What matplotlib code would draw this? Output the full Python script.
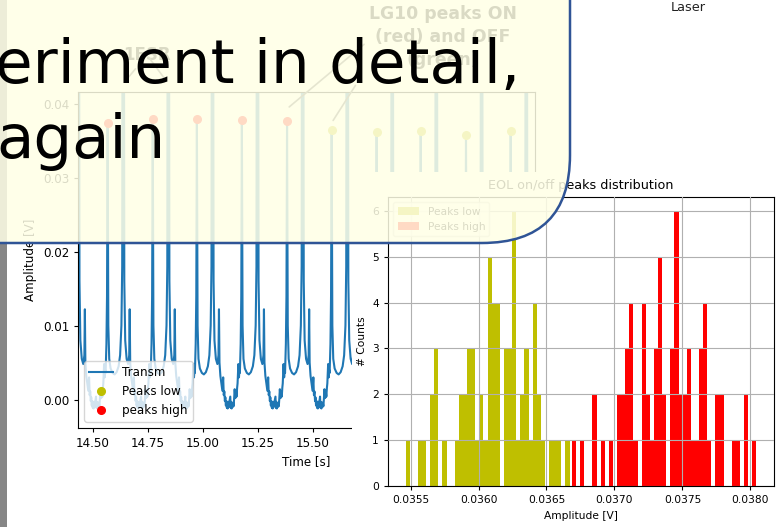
import numpy as np
import matplotlib.pyplot as plt
from matplotlib.patches import Rectangle, FancyBboxPatch
from matplotlib.ticker import MultipleLocator, FormatStrFormatter

W, H = 779, 527

# Transmission scan: peak times [s] of the LG10 mode and their heights [V]
stem_t = [14.568, 14.7726, 14.973, 15.1771, 15.3821,
          15.5844, 15.7884, 15.9884, 16.1939, 16.3966]
stem_h = [0.0374, 0.0379, 0.0379, 0.0378, 0.0377,
          0.0364, 0.0362, 0.0363, 0.0358, 0.0363]
prev_t, prev_h = 14.3646, 0.0370   # cycle just before the window
n_high = 5                          # first five peaks are "ON"

# one cycle of the trace after a peak (offset [s], value [V])
after_off = [0.0, 0.0032, 0.0073, 0.0136, 0.0227, 0.0317, 0.0408, 0.0499, 0.0567,
             0.0626, 0.0662, 0.0685, 0.0730, 0.0757, 0.0798, 0.0862, 0.0930, 0.0980,
             0.1002, 0.1025, 0.1066, 0.1111, 0.1156, 0.1193, 0.1220, 0.1245, 0.1270,
             0.1292, 0.1315, 0.1338, 0.1361, 0.1380, 0.1397, 0.1415, 0.1433]
after_val = [None, 0.0100, 0.0055, 0.0042, 0.0036, 0.0034, 0.0037, 0.0045, 0.0060,
             0.0100, 0.0180, 0.0800, 0.0800, 0.0160, 0.0080, 0.0055, 0.0048, 0.0060,
             0.0122, 0.0050, 0.0032, 0.0022, 0.0012, 0.0030, 0.0006, 0.0011, -0.0002,
             0.0003, -0.0008, -0.0002, -0.0011, -0.0004, -0.0012, -0.0003, -0.0010]
# rise towards the next peak (offset before it [s], value [V])
before_off = [-0.0526, -0.0510, -0.0490, -0.0465, -0.0444, -0.0420, -0.0399,
              -0.0375, -0.0354, -0.0327, -0.0295, -0.0265, -0.0240, -0.0215,
              -0.0195, -0.0159, -0.0132, -0.0110, -0.0091, -0.0054, -0.0027]
before_val = [0.0004, -0.0011, -0.0003, -0.0012, -0.0005, -0.0010, -0.0004,
              -0.0009, 0.0000, 0.0014, 0.0002, 0.0011, 0.0004, 0.0016,
              0.0022, 0.0048, 0.0030, 0.0040, 0.0036, 0.0075, 0.0140]

# histogram of peak amplitudes
low_edges = np.linspace(0.035463, 0.036670, 41)
low_counts = [1, 0, 0, 1, 1, 0, 2, 3, 0, 1, 0, 0, 1, 2, 2, 3, 3, 1, 2, 1,
              5, 4, 4, 0, 3, 3, 6, 1, 2, 3, 1, 4, 2, 1, 0, 1, 1, 1, 0, 1]
high_edges = np.linspace(0.036687, 0.038045, 46)
high_counts = [1, 0, 1, 0, 0, 2, 0, 1, 0, 1, 0, 2, 2, 3, 4, 1, 0, 4, 2, 1,
               3, 5, 2, 0, 3, 6, 2, 2, 3, 1, 1, 3, 4, 1, 0, 2, 2, 0, 0, 1,
               1, 0, 2, 0, 1]

# build the trace
ts, vs = [], []
all_t = [prev_t] + stem_t
all_h = [prev_h] + stem_h
for k, (t0, h0) in enumerate(zip(all_t, all_h)):
    for off, v in zip(after_off, after_val):
        ts.append(t0 + off)
        vs.append(h0 if v is None else v)
    if k + 1 < len(all_t):
        for off, v in zip(before_off, before_val):
            ts.append(all_t[k + 1] + off)
            vs.append(v)


def rect(x0, y0, x1, y1):
    return [x0 / W, 1 - y1 / H, (x1 - x0) / W, (y1 - y0) / H]


fig = plt.figure(figsize=(W / 100, H / 100), dpi=100, facecolor='white')

# ---- time series ----
fs = 8.6
ax = fig.add_axes(rect(78.3, 91.7, 535, 427.7))
ax.set_zorder(1)
ax.plot(ts, vs, color='#1f77b4', lw=1.5, label='Transm')
ax.plot(stem_t[n_high:], stem_h[n_high:], 'o', color='y', ms=5.5, label='Peaks low')
ax.plot(stem_t[:n_high], stem_h[:n_high], 'o', color='r', ms=5.5, label='peaks high')
ax.set_xlim(14.435, 16.507)
ax.set_ylim(-0.0038, 0.0416)
ax.xaxis.set_major_locator(MultipleLocator(0.25))
ax.xaxis.set_major_formatter(FormatStrFormatter('%.2f'))
ax.yaxis.set_major_locator(MultipleLocator(0.01))
ax.yaxis.set_major_formatter(FormatStrFormatter('%.2f'))
ax.tick_params(labelsize=fs, length=3)
ax.set_xlabel('Time [s]', fontsize=fs)
ax.set_ylabel('Amplitude [V]', fontsize=fs)
ax.legend(loc='lower left', fontsize=fs)

spike_t = [stem_t[0] + 0.0707, stem_t[1] + 0.0707]
for st in spike_t:
    ax.annotate('1FSR' if st == spike_t[0] else '', xy=(st, 0.0427),
                xytext=(147, H - 55), textcoords='figure pixels',
                ha='center', va='center', fontsize=12, fontweight='bold',
                arrowprops=dict(arrowstyle='-', color='0.3', lw=1.2),
                annotation_clip=False)
ax.annotate('LG10 peaks ON\n(red) and OFF\n(green)', xy=(stem_t[4], stem_h[4] + 0.0016),
            xytext=(443, H - 37), textcoords='figure pixels',
            ha='center', va='center', fontsize=12.4, fontweight='bold',
            linespacing=1.37, arrowprops=dict(arrowstyle='-', color='0.3', lw=1.2,
                                              relpos=(0.0, 0.45)),
            annotation_clip=False)
ax.annotate('', xy=(stem_t[5], stem_h[5] + 0.0010),
            xytext=(357, H - 83), textcoords='figure pixels',
            arrowprops=dict(arrowstyle='-', color='0.3', lw=1.2),
            annotation_clip=False)

# white backdrop of the histogram panel
fig.add_artist(Rectangle((352 / W, 0), 1 - 352 / W, 1 - 172 / H,
                         transform=fig.transFigure, facecolor='white',
                         edgecolor='none', zorder=1.5))

# ---- histogram ----
hs = 7.7
axh = fig.add_axes(rect(388, 197, 774, 486))
axh.set_zorder(2)
axh.hist(low_edges[:-1], bins=low_edges, weights=low_counts, color='y', label='Peaks low')
axh.hist(high_edges[:-1], bins=high_edges, weights=high_counts, color='r', label='Peaks high')
axh.set_axisbelow(False)
axh.grid(True, color='#b0b0b0', lw=0.8)
axh.xaxis.set_major_locator(MultipleLocator(0.0005))
axh.xaxis.set_major_formatter(FormatStrFormatter('%.4f'))
axh.yaxis.set_major_locator(MultipleLocator(1))
axh.tick_params(labelsize=hs, length=3)
axh.set_xlabel('Amplitude [V]', fontsize=hs)
axh.set_ylabel('# Counts', fontsize=hs)
axh.set_title('EOL on/off peaks distribution', fontsize=9.2)
axh.legend(loc='upper left', fontsize=hs)

# ---- slide layer ----
ov = fig.add_axes([0, 0, 1, 1])
ov.set_zorder(5)
ov.set_xlim(0, W)
ov.set_ylim(H, 0)
ov.axis('off')
ov.add_patch(Rectangle((0, 0), 7, H, facecolor='#868686', edgecolor='none', zorder=1))
ov.text(688, 11, 'Laser', fontsize=9.3, color='#222222', ha='center', va='baseline')
ov.add_patch(FancyBboxPatch((-200, -200), 770, 443,
                            boxstyle='round,pad=0,rounding_size=88',
                            facecolor='#FFFFE6', alpha=0.86, edgecolor='none', zorder=2))
ov.add_patch(FancyBboxPatch((-200, -200), 770, 443,
                            boxstyle='round,pad=0,rounding_size=88',
                            facecolor='none', edgecolor='#2F5496', lw=1.8, zorder=3))
ov.text(-5, 83, 'eriment in detail,', fontsize=44, color='black',
        ha='left', va='baseline', zorder=4)
ov.text(-4, 158, 'again', fontsize=44, color='black',
        ha='left', va='baseline', zorder=4)

fig.savefig('out.png', dpi=100)
